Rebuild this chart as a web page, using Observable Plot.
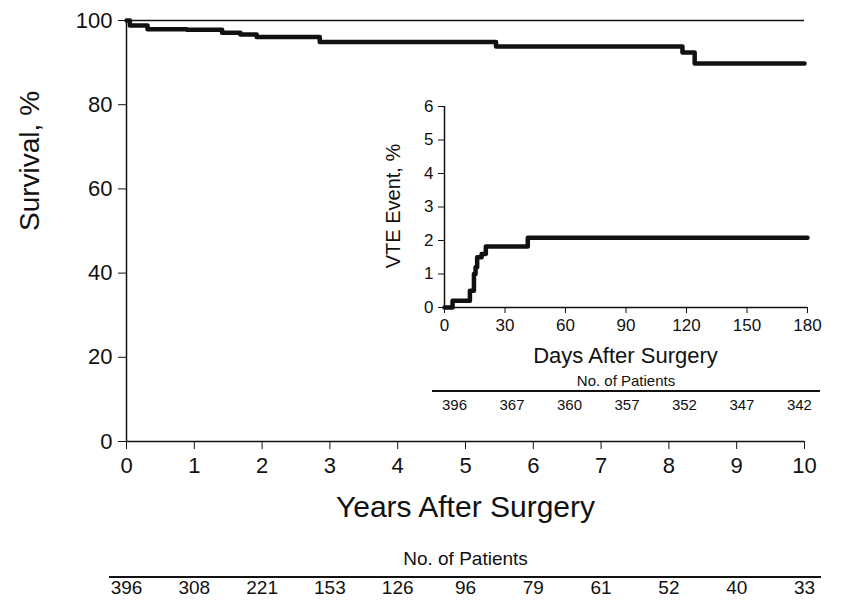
<!DOCTYPE html>
<html><head><meta charset="utf-8">
<script src="https://cdn.jsdelivr.net/npm/d3@7"></script>
<script src="https://cdn.jsdelivr.net/npm/@observablehq/plot@0.6"></script>
<style>
body{margin:0;background:#fff;font-family:Arial,"Liberation Sans",sans-serif;}
#wrap{position:relative;width:862px;height:603px;overflow:hidden}
#main,#inset{position:absolute;}
#main{left:0;top:0}
#inset{left:380px;top:90px}
.tbl{position:absolute;color:#111;}
.tbl .ttl{text-align:center;}
.tbl .row{display:flex;justify-content:space-between;border-top:2px solid #111;}
</style></head><body>
<div id="wrap">
<div id="main"></div>
<div id="inset"></div>
<div style="position:absolute;left:109px;top:576px;width:712px;border-top:2px solid #111"></div>
<div class="tbl" id="t2" style="left:432px;top:372px;width:388px;font-size:15px">
 <div class="ttl" style="line-height:18px">No. of Patients</div>
 <div class="row" id="r2" style="padding:4px 8px 0 10px;line-height:18px"></div>
</div>
</div>
<script>
// Survival curve (years, %)
const survYears = [0, 0.05, 0.31, 0.89, 1.41, 1.68, 1.92, 2.85, 5.45, 8.2, 8.38, 10];
const survPct   = [100, 98.8, 97.95, 97.8, 97.1, 96.7, 96.1, 94.9, 93.8, 92.4, 89.8, 89.8];
// VTE cumulative incidence (days, %)
const vteDays = [0, 4, 12.6, 14.6, 15.4, 16.2, 18.4, 20.5, 41.3, 180];
const vtePct  = [0, 0.2, 0.5, 1.0, 1.2, 1.5, 1.6, 1.82, 2.08, 2.08];
const atRiskMain = [396, 308, 221, 153, 126, 96, 79, 61, 52, 40, 33];
const atRiskInset = [396, 367, 360, 357, 352, 347, 342];
const mainTicksX = [0,1,2,3,4,5,6,7,8,9,10];
const mainTicksY = [0,20,40,60,80,100];
const insetTicksX = [0,30,60,90,120,150,180];
const insetTicksY = [0,1,2,3,4,5,6];

const surv = survYears.map((t,i)=>({t, v: survPct[i]}));
const vte = vteDays.map((d,i)=>({d, v: vtePct[i]}));
const riskMain = atRiskMain.map((n,i)=>({t: mainTicksX[i], n}));

const font = "Arial, 'Liberation Sans', sans-serif";
const main = Plot.plot({
  width: 862, height: 603,
  marginLeft: 126, marginRight: 58, marginTop: 20, marginBottom: 162,
  style: {fontFamily: font, color: "#111", background: "transparent"},
  x: {domain: [0, 10]},
  y: {domain: [0, 100]},
  marks: [
    Plot.axisX({ticks: mainTicksX, tickSize: 8, tickPadding: 8, fontSize: 22, label: null}),
    Plot.axisY({ticks: mainTicksY, tickSize: 8, tickPadding: 6, fontSize: 22, label: null}),
    Plot.text(["Years After Surgery"], {frameAnchor: "bottom", dy: 75, fontSize: 30, fill: "#111"}),
    Plot.text(["No. of Patients"], {frameAnchor: "bottom", dy: 123, fontSize: 19, fill: "#111"}),
    Plot.text(riskMain, {x: "t", text: "n", frameAnchor: "bottom", dy: 152, fontSize: 19, fill: "#111"}),
    Plot.text(["Survival, %"], {frameAnchor: "left", dx: -96, rotate: -90, fontSize: 28, fill: "#111"}),
    Plot.ruleY([0], {stroke: "#111", strokeWidth: 1.5}),
    Plot.ruleX([0], {stroke: "#111", strokeWidth: 1.5}),
    Plot.ruleY([100], {stroke: "#111", strokeWidth: 1.5}),
    Plot.line(surv, {x: "t", y: "v", curve: "step-after", stroke: "#111", strokeWidth: 4.5})
  ]
});
document.getElementById("main").appendChild(main);

const inset = Plot.plot({
  width: 460, height: 245,
  marginLeft: 64, marginRight: 33, marginTop: 16, marginBottom: 28,
  style: {fontFamily: font, color: "#111", background: "transparent"},
  x: {domain: [0, 180]},
  y: {domain: [0, 6]},
  marks: [
    Plot.axisX({ticks: insetTicksX, tickSize: 6, tickPadding: 5, fontSize: 17, label: null}),
    Plot.axisY({ticks: insetTicksY, tickFormat: "d", tickSize: 6, tickPadding: 5, fontSize: 17, label: null}),
    Plot.ruleY([0], {stroke: "#111", strokeWidth: 1.5}),
    Plot.ruleX([0], {stroke: "#111", strokeWidth: 1.5}),
    Plot.line(vte, {x: "d", y: "v", curve: "step-after", stroke: "#111", strokeWidth: 4.5})
  ]
});
document.getElementById("inset").appendChild(inset);
const insetLbl = document.createElement("div");
insetLbl.style.cssText = "position:absolute;left:444px;top:343px;width:363px;text-align:center;font-size:22px;color:#111";
insetLbl.textContent = "Days After Surgery";
document.getElementById("wrap").appendChild(insetLbl);
const insetY = document.createElement("div");
insetY.style.cssText = "position:absolute;left:393px;top:206px;font-size:20px;color:#111;transform:translate(-50%,-50%) rotate(-90deg);white-space:nowrap";
insetY.textContent = "VTE Event, %";
document.getElementById("wrap").appendChild(insetY);

const r2 = document.getElementById("r2");
atRiskInset.forEach(n => { const s = document.createElement("span"); s.textContent = n; r2.appendChild(s); });
</script>
</body></html>
